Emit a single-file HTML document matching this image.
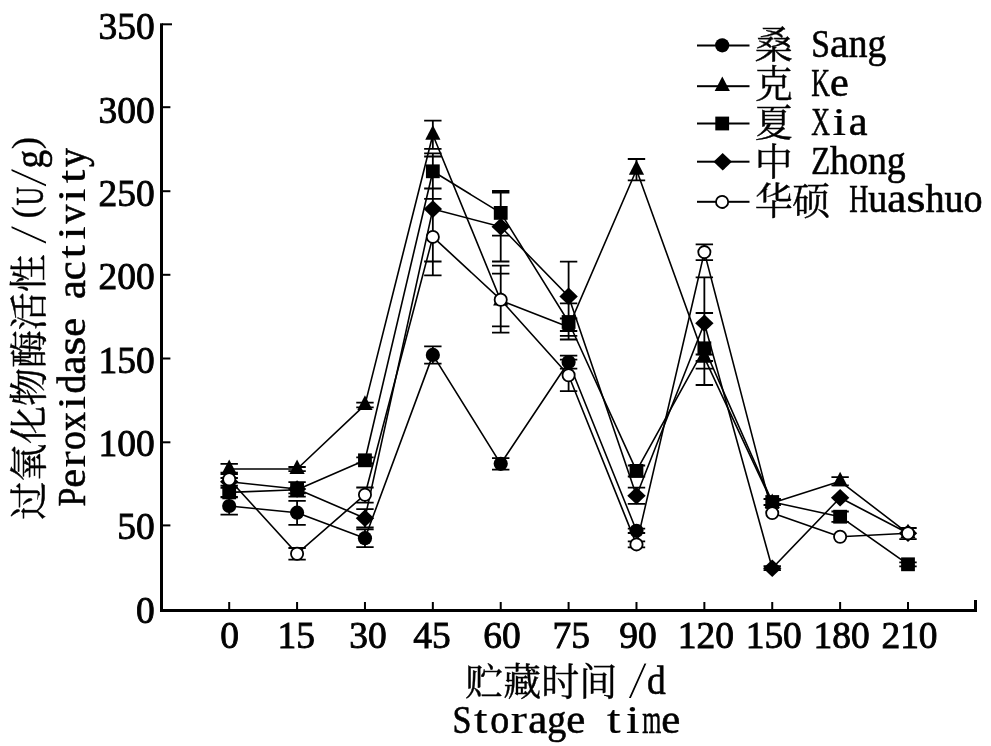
<!DOCTYPE html>
<html lang="zh">
<head>
<meta charset="utf-8">
<title>Peroxidase activity during storage</title>
<style>
html,body{margin:0;padding:0;background:#fff;}
body{width:991px;height:746px;overflow:hidden;font-family:"Liberation Serif",serif;}
svg{display:block;}
text{font-family:"Liberation Serif","Noto Serif CJK SC",serif;}
</style>
</head>
<body>
<svg width="991" height="746" viewBox="0 0 991 746" role="img" aria-label="过氧化物酶活性 Peroxidase activity /(U/g) vs 贮藏时间 Storage time /d">
<rect width="991" height="746" fill="#fff"/>
<g fill="#000">
<rect x="160" y="23.3" width="3" height="588.7"/>
<rect x="160" y="609" width="817" height="3"/>
<rect x="974" y="600" width="3" height="12"/>
<rect x="162" y="23.3" width="10" height="2"/>
<rect x="162" y="106.2" width="8.4" height="2"/>
<rect x="162" y="190.2" width="8.4" height="2"/>
<rect x="162" y="273.8" width="8.4" height="2"/>
<rect x="162" y="357.5" width="8.4" height="2"/>
<rect x="162" y="441.3" width="8.4" height="2"/>
<rect x="162" y="524.4" width="8.4" height="2"/>
<rect x="228.2" y="602" width="2" height="8"/>
<rect x="296.08" y="602" width="2" height="8"/>
<rect x="363.96" y="602" width="2" height="8"/>
<rect x="431.84" y="602" width="2" height="8"/>
<rect x="499.72" y="602" width="2" height="8"/>
<rect x="567.6" y="602" width="2" height="8"/>
<rect x="635.48" y="602" width="2" height="8"/>
<rect x="703.36" y="602" width="2" height="8"/>
<rect x="771.24" y="602" width="2" height="8"/>
<rect x="839.12" y="602" width="2" height="8"/>
<rect x="907" y="602" width="2" height="8"/>
</g>
<g opacity="0.999" fill="#000" stroke="#000" stroke-width="0.6" font-family="'Liberation Serif', 'Noto Serif CJK SC', serif">
<text y="648.4" font-size="38.5" stroke-width="0.9"><tspan x="220.23" textLength="18.73" lengthAdjust="spacingAndGlyphs">0</tspan></text>
<text y="648.4" font-size="38.5" stroke-width="0.9"><tspan x="277.57" textLength="18.73" lengthAdjust="spacingAndGlyphs">1</tspan><tspan x="296.3" textLength="18.73" lengthAdjust="spacingAndGlyphs">5</tspan></text>
<text y="648.4" font-size="38.5" stroke-width="0.9"><tspan x="349.27" textLength="18.73" lengthAdjust="spacingAndGlyphs">3</tspan><tspan x="368" textLength="18.73" lengthAdjust="spacingAndGlyphs">0</tspan></text>
<text y="648.4" font-size="38.5" stroke-width="0.9"><tspan x="413.37" textLength="18.73" lengthAdjust="spacingAndGlyphs">4</tspan><tspan x="432.1" textLength="18.73" lengthAdjust="spacingAndGlyphs">5</tspan></text>
<text y="648.4" font-size="38.5" stroke-width="0.9"><tspan x="483.27" textLength="18.73" lengthAdjust="spacingAndGlyphs">6</tspan><tspan x="502" textLength="18.73" lengthAdjust="spacingAndGlyphs">0</tspan></text>
<text y="648.4" font-size="38.5" stroke-width="0.9"><tspan x="552.47" textLength="18.73" lengthAdjust="spacingAndGlyphs">7</tspan><tspan x="571.2" textLength="18.73" lengthAdjust="spacingAndGlyphs">5</tspan></text>
<text y="648.4" font-size="38.5" stroke-width="0.9"><tspan x="619.37" textLength="18.73" lengthAdjust="spacingAndGlyphs">9</tspan><tspan x="638.1" textLength="18.73" lengthAdjust="spacingAndGlyphs">0</tspan></text>
<text y="648.4" font-size="38.5" stroke-width="0.9"><tspan x="677.76" textLength="18.73" lengthAdjust="spacingAndGlyphs">1</tspan><tspan x="696.49" textLength="18.73" lengthAdjust="spacingAndGlyphs">2</tspan><tspan x="715.22" textLength="18.73" lengthAdjust="spacingAndGlyphs">0</tspan></text>
<text y="648.4" font-size="38.5" stroke-width="0.9"><tspan x="745.64" textLength="18.73" lengthAdjust="spacingAndGlyphs">1</tspan><tspan x="764.38" textLength="18.73" lengthAdjust="spacingAndGlyphs">5</tspan><tspan x="783.11" textLength="18.73" lengthAdjust="spacingAndGlyphs">0</tspan></text>
<text y="648.4" font-size="38.5" stroke-width="0.9"><tspan x="813.52" textLength="18.73" lengthAdjust="spacingAndGlyphs">1</tspan><tspan x="832.25" textLength="18.73" lengthAdjust="spacingAndGlyphs">8</tspan><tspan x="850.98" textLength="18.73" lengthAdjust="spacingAndGlyphs">0</tspan></text>
<text y="648.4" font-size="38.5" stroke-width="0.9"><tspan x="881.4" textLength="18.73" lengthAdjust="spacingAndGlyphs">2</tspan><tspan x="900.13" textLength="18.73" lengthAdjust="spacingAndGlyphs">1</tspan><tspan x="918.87" textLength="18.73" lengthAdjust="spacingAndGlyphs">0</tspan></text>
<text y="39.25" font-size="38.5" stroke-width="0.9"><tspan x="98.61" textLength="18.73" lengthAdjust="spacingAndGlyphs">3</tspan><tspan x="117.34" textLength="18.73" lengthAdjust="spacingAndGlyphs">5</tspan><tspan x="136.07" textLength="18.73" lengthAdjust="spacingAndGlyphs">0</tspan></text>
<text y="122.59" font-size="38.5" stroke-width="0.9"><tspan x="98.61" textLength="18.73" lengthAdjust="spacingAndGlyphs">3</tspan><tspan x="117.34" textLength="18.73" lengthAdjust="spacingAndGlyphs">0</tspan><tspan x="136.07" textLength="18.73" lengthAdjust="spacingAndGlyphs">0</tspan></text>
<text y="205.93" font-size="38.5" stroke-width="0.9"><tspan x="98.61" textLength="18.73" lengthAdjust="spacingAndGlyphs">2</tspan><tspan x="117.34" textLength="18.73" lengthAdjust="spacingAndGlyphs">5</tspan><tspan x="136.07" textLength="18.73" lengthAdjust="spacingAndGlyphs">0</tspan></text>
<text y="289.27" font-size="38.5" stroke-width="0.9"><tspan x="98.61" textLength="18.73" lengthAdjust="spacingAndGlyphs">2</tspan><tspan x="117.34" textLength="18.73" lengthAdjust="spacingAndGlyphs">0</tspan><tspan x="136.07" textLength="18.73" lengthAdjust="spacingAndGlyphs">0</tspan></text>
<text y="372.61" font-size="38.5" stroke-width="0.9"><tspan x="98.61" textLength="18.73" lengthAdjust="spacingAndGlyphs">1</tspan><tspan x="117.34" textLength="18.73" lengthAdjust="spacingAndGlyphs">5</tspan><tspan x="136.07" textLength="18.73" lengthAdjust="spacingAndGlyphs">0</tspan></text>
<text y="455.95" font-size="38.5" stroke-width="0.9"><tspan x="98.61" textLength="18.73" lengthAdjust="spacingAndGlyphs">1</tspan><tspan x="117.34" textLength="18.73" lengthAdjust="spacingAndGlyphs">0</tspan><tspan x="136.07" textLength="18.73" lengthAdjust="spacingAndGlyphs">0</tspan></text>
<text y="539.29" font-size="38.5" stroke-width="0.9"><tspan x="117.34" textLength="18.73" lengthAdjust="spacingAndGlyphs">5</tspan><tspan x="136.07" textLength="18.73" lengthAdjust="spacingAndGlyphs">0</tspan></text>
<text y="622.63" font-size="38.5" stroke-width="0.9"><tspan x="136.07" textLength="18.73" lengthAdjust="spacingAndGlyphs">0</tspan></text>
<text x="754.72" y="58.3" font-size="38" stroke-width="0.4">桑</text>
<text y="56.9" font-size="39"><tspan x="811.19" textLength="18.73" lengthAdjust="spacingAndGlyphs">S</tspan><tspan x="829.92" textLength="18.73" lengthAdjust="spacingAndGlyphs">a</tspan><tspan x="848.65" textLength="18.73" lengthAdjust="spacingAndGlyphs">n</tspan><tspan x="867.38" textLength="18.73" lengthAdjust="spacingAndGlyphs">g</tspan></text>
<text x="754.72" y="97.2" font-size="38" stroke-width="0.4">克</text>
<text y="95.8" font-size="39"><tspan x="811.19" textLength="18.73" lengthAdjust="spacingAndGlyphs">K</tspan><tspan x="829.92" textLength="18.73" lengthAdjust="spacingAndGlyphs">e</tspan></text>
<text x="754.72" y="136.1" font-size="38" stroke-width="0.4">夏</text>
<text y="134.7" font-size="39"><tspan x="811.19" textLength="18.73" lengthAdjust="spacingAndGlyphs">X</tspan><tspan x="832.51" stroke-width="0.2" textLength="13.54" lengthAdjust="spacingAndGlyphs">i</tspan><tspan x="848.65" textLength="18.73" lengthAdjust="spacingAndGlyphs">a</tspan></text>
<text x="754.72" y="175" font-size="38" stroke-width="0.4">中</text>
<text y="173.6" font-size="39"><tspan x="811.19" textLength="18.9" lengthAdjust="spacingAndGlyphs">Z</tspan><tspan x="830.09" textLength="18.9" lengthAdjust="spacingAndGlyphs">h</tspan><tspan x="848.99" textLength="18.9" lengthAdjust="spacingAndGlyphs">o</tspan><tspan x="867.89" textLength="18.9" lengthAdjust="spacingAndGlyphs">n</tspan><tspan x="886.79" textLength="18.9" lengthAdjust="spacingAndGlyphs">g</tspan></text>
<text x="754.72 792.18" y="213.8" font-size="38" stroke-width="0.4">华硕</text>
<text y="212.4" font-size="39"><tspan x="849.3" textLength="19.04" lengthAdjust="spacingAndGlyphs">H</tspan><tspan x="868.34" textLength="19.04" lengthAdjust="spacingAndGlyphs">u</tspan><tspan x="887.38" textLength="19.04" lengthAdjust="spacingAndGlyphs">a</tspan><tspan x="906.45" textLength="18.97" lengthAdjust="spacingAndGlyphs">s</tspan><tspan x="925.46" textLength="19.04" lengthAdjust="spacingAndGlyphs">h</tspan><tspan x="944.5" textLength="19.04" lengthAdjust="spacingAndGlyphs">u</tspan><tspan x="963.54" textLength="19.04" lengthAdjust="spacingAndGlyphs">o</tspan></text>
<text x="465.32 503.32 541.32 579.32" y="695.3" font-size="38" stroke-width="0.4">贮藏时间</text>
<text y="694.2" font-size="39"><tspan x="628" y="698.1" font-size="51.87" stroke="#fff" stroke-width="0.9" textLength="19.33" lengthAdjust="spacingAndGlyphs">/</tspan><tspan x="647.03" y="694.2" textLength="18.73" lengthAdjust="spacingAndGlyphs">d</tspan></text>
<text y="732.5" font-size="39"><tspan x="452.4" textLength="18.98" lengthAdjust="spacingAndGlyphs">S</tspan><tspan x="474.1" stroke-width="0.2" textLength="13.54" lengthAdjust="spacingAndGlyphs">t</tspan><tspan x="490.36" textLength="18.98" lengthAdjust="spacingAndGlyphs">o</tspan><tspan x="510.71" stroke-width="0.2" textLength="16.23" lengthAdjust="spacingAndGlyphs">r</tspan><tspan x="528.32" textLength="18.98" lengthAdjust="spacingAndGlyphs">a</tspan><tspan x="547.3" textLength="18.98" lengthAdjust="spacingAndGlyphs">g</tspan><tspan x="566.28" textLength="18.98" lengthAdjust="spacingAndGlyphs">e</tspan> <tspan x="606.96" stroke-width="0.2" textLength="13.54" lengthAdjust="spacingAndGlyphs">t</tspan><tspan x="625.94" stroke-width="0.2" textLength="13.54" lengthAdjust="spacingAndGlyphs">i</tspan><tspan x="642.2" textLength="18.98" lengthAdjust="spacingAndGlyphs">m</tspan><tspan x="661.18" textLength="18.98" lengthAdjust="spacingAndGlyphs">e</tspan></text>
<g transform="rotate(-90)">
<text x="-519.68 -481.78 -443.88 -405.98 -368.08 -330.18 -292.28" y="42" font-size="38" stroke-width="0.4">过氧化物酶活性</text>
<text y="42.5" font-size="39"><tspan x="-244.6" y="46.4" font-size="51.87" stroke="#fff" stroke-width="0.9" textLength="19.33" lengthAdjust="spacingAndGlyphs">/</tspan></text>
<text y="42.5" font-size="39"><tspan x="-218.44" y="38" font-size="37.05" stroke-width="0.2" textLength="12.34" lengthAdjust="spacingAndGlyphs">(</tspan><tspan x="-205.6" y="42.5" textLength="18.6" lengthAdjust="spacingAndGlyphs">U</tspan><tspan x="-187.3" y="46.4" font-size="51.87" stroke="#fff" stroke-width="0.9" textLength="19.2" lengthAdjust="spacingAndGlyphs">/</tspan><tspan x="-168.4" y="42.5" textLength="18.6" lengthAdjust="spacingAndGlyphs">g</tspan><tspan x="-149.3" y="38" font-size="37.05" stroke-width="0.2" textLength="12.34" lengthAdjust="spacingAndGlyphs">)</tspan></text>
<text y="84.5" font-size="39"><tspan x="-506.6" textLength="18.87" lengthAdjust="spacingAndGlyphs">P</tspan><tspan x="-487.73" textLength="18.87" lengthAdjust="spacingAndGlyphs">e</tspan><tspan x="-467.54" stroke-width="0.2" textLength="16.23" lengthAdjust="spacingAndGlyphs">r</tspan><tspan x="-449.99" textLength="18.87" lengthAdjust="spacingAndGlyphs">o</tspan><tspan x="-431.12" textLength="18.87" lengthAdjust="spacingAndGlyphs">x</tspan><tspan x="-409.59" stroke-width="0.2" textLength="13.54" lengthAdjust="spacingAndGlyphs">i</tspan><tspan x="-393.38" textLength="18.87" lengthAdjust="spacingAndGlyphs">d</tspan><tspan x="-374.51" textLength="18.87" lengthAdjust="spacingAndGlyphs">a</tspan><tspan x="-355.64" textLength="18.87" lengthAdjust="spacingAndGlyphs">s</tspan><tspan x="-336.77" textLength="18.87" lengthAdjust="spacingAndGlyphs">e</tspan> <tspan x="-299.03" textLength="18.87" lengthAdjust="spacingAndGlyphs">a</tspan><tspan x="-280.16" textLength="18.87" lengthAdjust="spacingAndGlyphs">c</tspan><tspan x="-258.63" stroke-width="0.2" textLength="13.54" lengthAdjust="spacingAndGlyphs">t</tspan><tspan x="-239.76" stroke-width="0.2" textLength="13.54" lengthAdjust="spacingAndGlyphs">i</tspan><tspan x="-223.55" textLength="18.87" lengthAdjust="spacingAndGlyphs">v</tspan><tspan x="-202.02" stroke-width="0.2" textLength="13.54" lengthAdjust="spacingAndGlyphs">i</tspan><tspan x="-183.15" stroke-width="0.2" textLength="13.54" lengthAdjust="spacingAndGlyphs">t</tspan><tspan x="-166.94" textLength="18.87" lengthAdjust="spacingAndGlyphs">y</tspan></text>
</g>
</g>
<g fill="none" stroke="#000" stroke-width="1.6" stroke-linejoin="round">
<polyline points="229.2,506 297.08,512.7 364.96,538.2 432.84,354.9 500.72,463.8 568.6,362 636.48,530.8"/>
<polyline points="229.2,469 297.08,469 364.96,404.9 432.84,134.7 500.72,300.5 568.6,327 636.48,169.7 704.36,357.7 772.24,503 840.12,481.3 908,533.3"/>
<polyline points="229.2,492.4 297.08,489.8 364.96,460.3 432.84,171.3 500.72,212.9 568.6,322 636.48,470.9 704.36,348.3 772.24,502 840.12,516.7 908,564.3"/>
<polyline points="229.2,481.8 297.08,489 364.96,518.2 432.84,209.1 500.72,226.7 568.6,296.4 636.48,495.7 704.36,323.3 772.24,568.2 840.12,497.7 908,533.3"/>
<polyline points="229.2,479.3 297.08,553.7 364.96,494.7 432.84,236.9 500.72,299.7 568.6,375.2 636.48,544.4 704.36,252.1 772.24,513.1 840.12,536.8 908,533.3"/>
</g>
<path fill="none" stroke="#000" stroke-width="1.8" d="M229.2 497.4V514.6M220.5 497.4h17.4M220.5 514.6h17.4M297.08 500.9V524.8M288.38 500.9h17.4M288.38 524.8h17.4M364.96 529.3V547.1M356.26 529.3h17.4M356.26 547.1h17.4M432.84 346.3V363.6M424.14 346.3h17.4M424.14 363.6h17.4M500.72 458.1V469.7M492.02 458.1h17.4M492.02 469.7h17.4M568.6 355.6V368.6M559.9 355.6h17.4M559.9 368.6h17.4M636.48 528.6V533M627.78 528.6h17.4M627.78 533h17.4M229.2 463.9V474M220.5 463.9h17.4M220.5 474h17.4M297.08 467V471.2M288.38 467h17.4M288.38 471.2h17.4M364.96 402.6V407.4M356.26 402.6h17.4M356.26 407.4h17.4M432.84 120.7V148.8M424.14 120.7h17.4M424.14 148.8h17.4M500.72 273.6V326.3M492.02 273.6h17.4M492.02 326.3h17.4M568.6 318.5V335.9M559.9 318.5h17.4M559.9 335.9h17.4M636.48 159V180.3M627.78 159h17.4M627.78 180.3h17.4M704.36 354.5V361M695.66 354.5h17.4M695.66 361h17.4M840.12 477.2V485.4M831.42 477.2h17.4M831.42 485.4h17.4M908 528V539.2M899.3 528h17.4M899.3 539.2h17.4M229.2 487.8V496.9M220.5 487.8h17.4M220.5 496.9h17.4M297.08 482.2V496.6M288.38 482.2h17.4M288.38 496.6h17.4M364.96 457.3V463.3M356.26 457.3h17.4M356.26 463.3h17.4M432.84 153.4V188.5M424.14 153.4h17.4M424.14 188.5h17.4M500.72 190.9V235.6M492.02 190.9h17.4M492.02 235.6h17.4M568.6 303.3V339.5M559.9 303.3h17.4M559.9 339.5h17.4M636.48 465.5V476.5M627.78 465.5h17.4M627.78 476.5h17.4M704.36 313V385M695.66 313h17.4M695.66 385h17.4M772.24 499V505M763.54 499h17.4M763.54 505h17.4M840.12 511.5V521.8M831.42 511.5h17.4M831.42 521.8h17.4M908 562.3V566.3M899.3 562.3h17.4M899.3 566.3h17.4M229.2 478V485.6M220.5 478h17.4M220.5 485.6h17.4M297.08 482.2V493.4M288.38 482.2h17.4M288.38 493.4h17.4M364.96 509.2V527.3M356.26 509.2h17.4M356.26 527.3h17.4M432.84 156.5V261.5M424.14 156.5h17.4M424.14 261.5h17.4M500.72 192.5V261.5M492.02 192.5h17.4M492.02 261.5h17.4M568.6 261.7V331M559.9 261.7h17.4M559.9 331h17.4M636.48 487.6V503.8M627.78 487.6h17.4M627.78 503.8h17.4M704.36 277.4V368.6M695.66 277.4h17.4M695.66 368.6h17.4M772.24 566.2V570.2M763.54 566.2h17.4M763.54 570.2h17.4M908 528V539.2M899.3 528h17.4M899.3 539.2h17.4M229.2 472.7V485.8M220.5 472.7h17.4M220.5 485.8h17.4M297.08 548V559.6M288.38 548h17.4M288.38 559.6h17.4M364.96 487.5V502.7M356.26 487.5h17.4M356.26 502.7h17.4M432.84 198.8V275.4M424.14 198.8h17.4M424.14 275.4h17.4M500.72 265.7V332.7M492.02 265.7h17.4M492.02 332.7h17.4M568.6 359.6V391.2M559.9 359.6h17.4M559.9 391.2h17.4M636.48 541.4V547.4M627.78 541.4h17.4M627.78 547.4h17.4M704.36 244.4V260.1M695.66 244.4h17.4M695.66 260.1h17.4M908 528V539.2M899.3 528h17.4M899.3 539.2h17.4"/>
<g fill="#000">
<circle cx="229.2" cy="506" r="7.1"/>
<circle cx="297.08" cy="512.7" r="7.1"/>
<circle cx="364.96" cy="538.2" r="7.1"/>
<circle cx="432.84" cy="354.9" r="7.1"/>
<circle cx="500.72" cy="463.8" r="7.1"/>
<circle cx="568.6" cy="362" r="7.1"/>
<circle cx="636.48" cy="530.8" r="7.1"/>
<path d="M229.2 459.4L236.8 474H221.6Z"/>
<path d="M297.08 459.4L304.68 474H289.48Z"/>
<path d="M364.96 395.3L372.56 409.9H357.36Z"/>
<path d="M432.84 125.1L440.44 139.7H425.24Z"/>
<path d="M500.72 290.9L508.32 305.5H493.12Z"/>
<path d="M568.6 317.4L576.2 332H561Z"/>
<path d="M636.48 160.1L644.08 174.7H628.88Z"/>
<path d="M704.36 348.1L711.96 362.7H696.76Z"/>
<path d="M772.24 493.4L779.84 508H764.64Z"/>
<path d="M840.12 471.7L847.72 486.3H832.52Z"/>
<path d="M908 523.7L915.6 538.3H900.4Z"/>
<rect x="222.3" y="485.5" width="13.8" height="13.8"/>
<rect x="290.18" y="482.9" width="13.8" height="13.8"/>
<rect x="358.06" y="453.4" width="13.8" height="13.8"/>
<rect x="425.94" y="164.4" width="13.8" height="13.8"/>
<rect x="493.82" y="206" width="13.8" height="13.8"/>
<rect x="561.7" y="315.1" width="13.8" height="13.8"/>
<rect x="629.58" y="464" width="13.8" height="13.8"/>
<rect x="697.46" y="341.4" width="13.8" height="13.8"/>
<rect x="765.34" y="495.1" width="13.8" height="13.8"/>
<rect x="833.22" y="509.8" width="13.8" height="13.8"/>
<rect x="901.1" y="557.4" width="13.8" height="13.8"/>
<path d="M229.2 473L238.4 481.8L229.2 490.6L220 481.8Z"/>
<path d="M297.08 480.2L306.28 489L297.08 497.8L287.88 489Z"/>
<path d="M364.96 509.4L374.16 518.2L364.96 527L355.76 518.2Z"/>
<path d="M432.84 200.3L442.04 209.1L432.84 217.9L423.64 209.1Z"/>
<path d="M500.72 217.9L509.92 226.7L500.72 235.5L491.52 226.7Z"/>
<path d="M568.6 287.6L577.8 296.4L568.6 305.2L559.4 296.4Z"/>
<path d="M636.48 486.9L645.68 495.7L636.48 504.5L627.28 495.7Z"/>
<path d="M704.36 314.5L713.56 323.3L704.36 332.1L695.16 323.3Z"/>
<path d="M772.24 559.4L781.44 568.2L772.24 577L763.04 568.2Z"/>
<path d="M840.12 488.9L849.32 497.7L840.12 506.5L830.92 497.7Z"/>
<path d="M908 524.5L917.2 533.3L908 542.1L898.8 533.3Z"/>
<circle cx="229.2" cy="479.3" r="6.1" fill="#fff" stroke="#000" stroke-width="1.8"/>
<circle cx="297.08" cy="553.7" r="6.1" fill="#fff" stroke="#000" stroke-width="1.8"/>
<circle cx="364.96" cy="494.7" r="6.1" fill="#fff" stroke="#000" stroke-width="1.8"/>
<circle cx="432.84" cy="236.9" r="6.1" fill="#fff" stroke="#000" stroke-width="1.8"/>
<circle cx="500.72" cy="299.7" r="6.1" fill="#fff" stroke="#000" stroke-width="1.8"/>
<circle cx="568.6" cy="375.2" r="6.1" fill="#fff" stroke="#000" stroke-width="1.8"/>
<circle cx="636.48" cy="544.4" r="6.1" fill="#fff" stroke="#000" stroke-width="1.8"/>
<circle cx="704.36" cy="252.1" r="6.1" fill="#fff" stroke="#000" stroke-width="1.8"/>
<circle cx="772.24" cy="513.1" r="6.1" fill="#fff" stroke="#000" stroke-width="1.8"/>
<circle cx="840.12" cy="536.8" r="6.1" fill="#fff" stroke="#000" stroke-width="1.8"/>
<circle cx="908" cy="533.3" r="6.1" fill="#fff" stroke="#000" stroke-width="1.8"/>
</g>
<g fill="#000">
<rect x="697" y="44.5" width="52.5" height="2"/>
<rect x="697" y="85.2" width="52.5" height="2"/>
<rect x="697" y="122.5" width="52.5" height="2"/>
<rect x="697" y="160.7" width="52.5" height="2"/>
<rect x="697" y="200.8" width="52.5" height="2"/>
<circle cx="722.2" cy="45.3" r="7.1"/>
<path d="M722.3 76.5L729.9 91.1H714.7Z"/>
<rect x="715.3" y="116.6" width="13.8" height="13.8"/>
<path d="M722.7 153L731.9 161.8L722.7 170.6L713.5 161.8Z"/>
<circle cx="722.1" cy="201.9" r="6.1" fill="#fff" stroke="#000" stroke-width="1.8"/>
</g>
</svg>
</body>
</html>
